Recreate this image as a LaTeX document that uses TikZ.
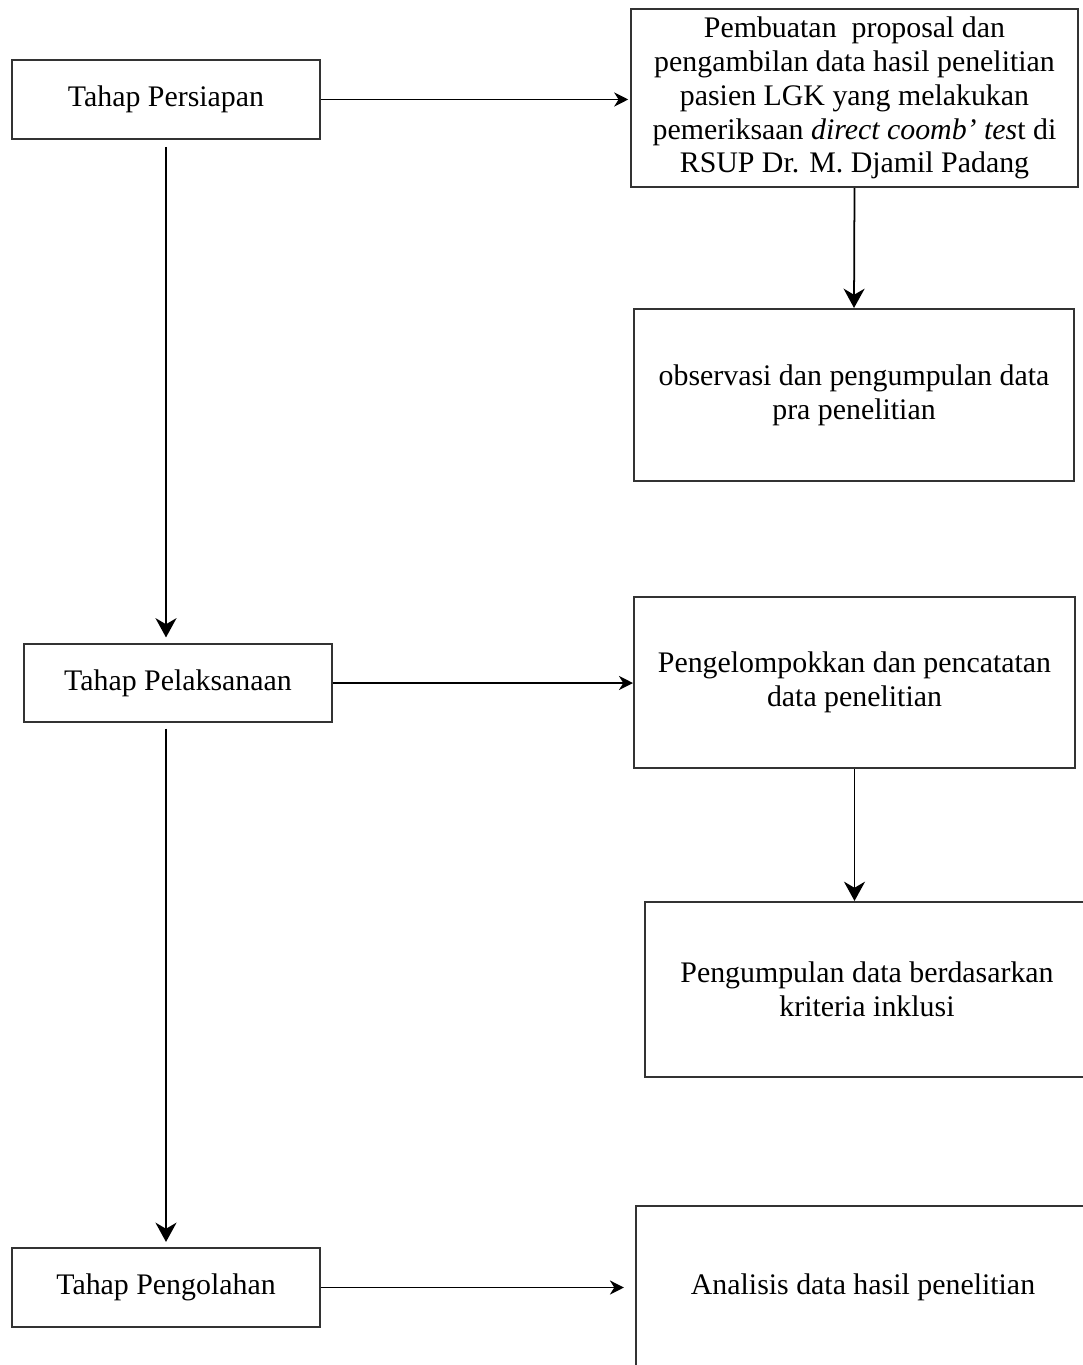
\documentclass[tikz,border=0pt]{standalone}
\usepackage{fontspec}
\setmainfont{Liberation Serif}
\usetikzlibrary{arrows.meta}

\begin{document}
\begin{tikzpicture}[x=0.02cm, y=-0.02cm,
  tahap/.style={draw=black!80, line width=1.2pt, inner sep=0pt, font=\fontsize{17}{19.3}\selectfont, minimum height=1.57cm, minimum width=6.15cm},
  kegiatan/.style={draw=black!80, line width=1.2pt, inner sep=0pt, align=center, font=\fontsize{17}{19.3}\selectfont, minimum width=8.85cm},
  panah/.style={line width=1pt, -{Stealth[length=8pt, width=8pt, inset=2.5pt]}},
  panahbesar/.style={line width=1pt, -{Stealth[length=11pt, width=12pt, inset=3.5pt]}}]
\useasboundingbox (0,0) rectangle (1082,1365);

% Left column
\node[tahap] (persiapan) at (166,99.5) {Tahap Persiapan};
\node[tahap] (pelaksanaan) at (178,683) {Tahap Pelaksanaan};
\node[tahap] (pengolahan) at (166,1287.5) {Tahap Pengolahan};

% Right column
\node[kegiatan, minimum width=8.94cm, minimum height=3.56cm] (proposal) at (854.5,98) {Pembuatan\ \ proposal dan\\ pengambilan data hasil penelitian\\ pasien LGK yang melakukan\\ pemeriksaan \textit{direct coomb' tes}t di\\ RSUP Dr. M. Djamil Padang};
\node[kegiatan, minimum width=8.8cm, minimum height=3.44cm] (observasi) at (854,395) {observasi dan pengumpulan data\\ pra penelitian};
\node[kegiatan, minimum width=8.82cm, minimum height=3.42cm] (kelompok) at (854.5,682.5) {Pengelompokkan dan pencatatan\\ data penelitian};
\node[kegiatan, minimum width=8.9cm, minimum height=3.5cm] (kumpul) at (867,989.5) {Pengumpulan data berdasarkan\\ kriteria inklusi};
\node[kegiatan, minimum width=9.1cm, minimum height=3.24cm] (analisis) at (863,1287) {Analisis data hasil penelitian};

% Arrows
\draw[panah, shorten >=1pt] (persiapan.east) -- (persiapan.east -| proposal.west);
\draw[panahbesar] (proposal.south) -- (observasi.north);
\draw[panahbesar, shorten <=4pt, shorten >=3pt] (persiapan.south) -- (persiapan.south |- pelaksanaan.north);
\draw[panah] (pelaksanaan.east) -- (pelaksanaan.east -| kelompok.west);
\draw[panahbesar] (kelompok.south) -- (kelompok.south |- kumpul.north);
\draw[panahbesar, shorten <=3pt, shorten >=3pt] (pengolahan.north |- pelaksanaan.south) -- (pengolahan.north);
\draw[panah, shorten >=6pt] (pengolahan.east) -- (pengolahan.east -| analisis.west);
\end{tikzpicture}
\end{document}
